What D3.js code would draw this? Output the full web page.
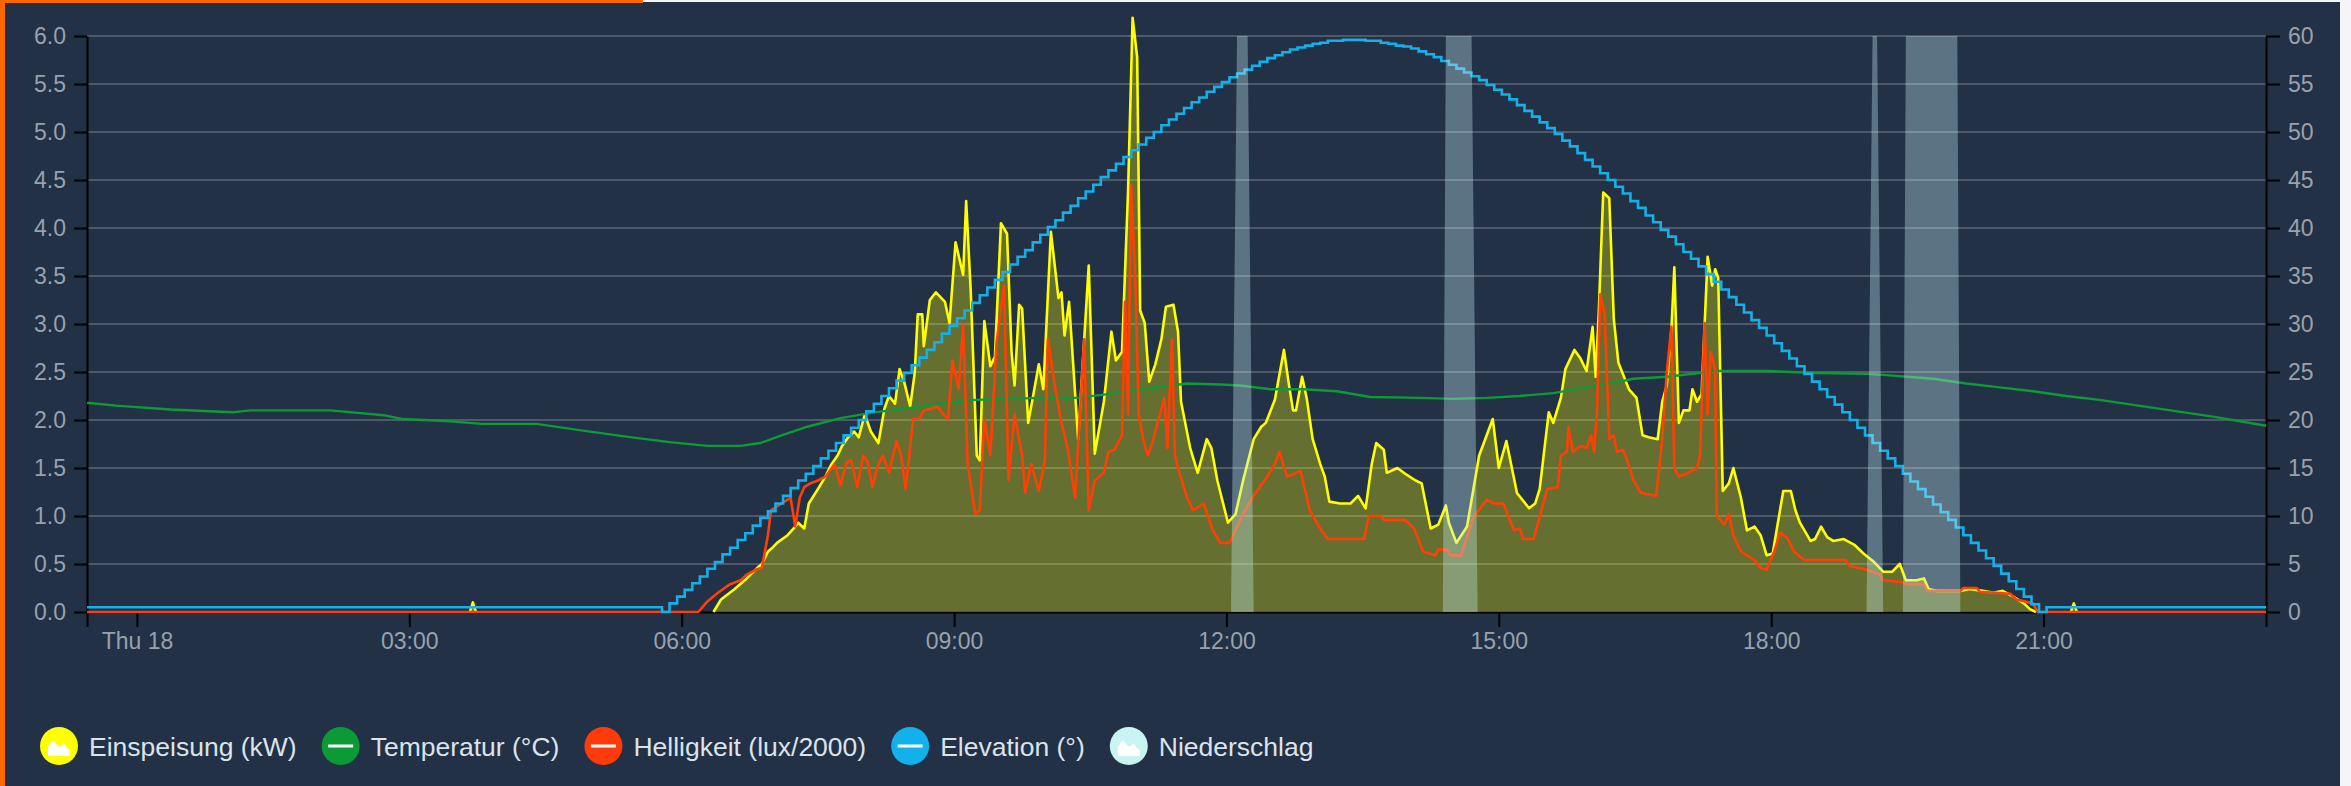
<!DOCTYPE html>
<html>
<head>
<meta charset="utf-8">
<script src="https://cdn.jsdelivr.net/npm/d3@7"></script>
<style>
  body { margin: 0; background: #ffffff; }
  svg { display: block; font-family: "Liberation Sans", Arial, Helvetica, sans-serif; }
</style>
</head>
<body>
<svg id="chart"></svg>
<script>
// time window shown (last 24h)
const domainStart = "17 23:27";
const domainEnd = "23:27";

// Einspeisung (kW) - null = no data
const einspeisung = [
  ["03:40", 0], ["03:42", 0.1], ["03:44", 0], ["03:45", null],
  ["06:21", 0], ["06:26", 0.13], ["06:35", 0.24], ["06:43", 0.35], ["06:50", 0.46], ["06:53", 0.5],
  ["06:57", 0.63], ["07:00", 0.67], ["07:03", 0.72], ["07:10", 0.8], ["07:14", 0.87], ["07:17", 0.93],
  ["07:21", 0.87], ["07:24", 1.13], ["07:30", 1.28], ["07:35", 1.41], ["07:39", 1.54], ["07:43", 1.63],
  ["07:46", 1.73], ["07:50", 1.82], ["07:54", 1.88], ["07:57", 1.82], ["08:01", 2.06], ["08:05", 1.88],
  ["08:10", 1.76], ["08:14", 2.12], ["08:17", 2.25], ["08:21", 2.17], ["08:24", 2.53], ["08:27", 2.4],
  ["08:31", 2.14], ["08:34", 2.49], ["08:36", 3.1], ["08:39", 3.1], ["08:40", 2.77], ["08:44", 3.25],
  ["08:48", 3.33], ["08:54", 3.23], ["08:57", 3.01], ["09:01", 3.85], ["09:06", 3.51], ["09:08", 4.28],
  ["09:11", 3.35], ["09:15", 1.63], ["09:17", 1.58], ["09:20", 3.03], ["09:24", 2.56], ["09:27", 2.66],
  ["09:31", 4.05], ["09:35", 3.94], ["09:38", 2.71], ["09:40", 2.36], ["09:43", 3.2], ["09:45", 3.16],
  ["09:49", 1.97], ["09:52", 2.23], ["09:56", 2.58], ["09:59", 2.32], ["10:04", 3.96], ["10:09", 3.27],
  ["10:11", 3.33], ["10:13", 2.88], ["10:16", 3.23], ["10:22", 1.8], ["10:29", 3.61], ["10:33", 1.65],
  ["10:39", 2.19], ["10:44", 2.92], ["10:47", 2.62], ["10:51", 2.71], ["10:55", 4.39], ["10:58", 6.19],
  ["11:01", 5.78], ["11:03", 3.14], ["11:06", 3.01], ["11:09", 2.4], ["11:13", 2.58], ["11:17", 2.84],
  ["11:20", 3.18], ["11:25", 3.2], ["11:28", 2.92], ["11:30", 2.19], ["11:36", 1.71], ["11:41", 1.45],
  ["11:47", 1.8], ["11:50", 1.71], ["11:54", 1.37], ["12:01", 0.93], ["12:06", 1.02], ["12:11", 1.37],
  ["12:18", 1.8], ["12:23", 1.93], ["12:26", 1.97], ["12:32", 2.21], ["12:38", 2.73], ["12:41", 2.4],
  ["12:44", 2.1], ["12:46", 2.1], ["12:50", 2.45], ["12:53", 2.23], ["12:57", 1.8], ["13:02", 1.54],
  ["13:05", 1.41], ["13:08", 1.15], ["13:15", 1.13], ["13:22", 1.13], ["13:27", 1.21], ["13:32", 1.08],
  ["13:36", 1.54], ["13:39", 1.76], ["13:44", 1.69], ["13:46", 1.45], ["13:53", 1.5], ["13:59", 1.43],
  ["14:05", 1.37], ["14:09", 1.34], ["14:15", 0.87], ["14:20", 0.91], ["14:25", 1.11], ["14:27", 0.93],
  ["14:32", 0.72], ["14:39", 0.89], ["14:47", 1.63], ["14:51", 1.8], ["14:56", 2.01], ["15:00", 1.5],
  ["15:05", 1.78], ["15:12", 1.24], ["15:20", 1.08], ["15:24", 1.13], ["15:27", 1.28], ["15:33", 2.08],
  ["15:36", 1.97], ["15:41", 2.23], ["15:44", 2.53], ["15:50", 2.73], ["15:54", 2.64], ["15:58", 2.51],
  ["16:02", 2.97], ["16:04", 2.45], ["16:06", 3.1], ["16:09", 4.37], ["16:13", 4.31], ["16:16", 3.05],
  ["16:19", 2.6], ["16:26", 2.32], ["16:31", 2.23], ["16:35", 1.84], ["16:39", 1.82], ["16:45", 1.8],
  ["16:48", 2.19], ["16:51", 2.36], ["16:54", 2.92], ["16:56", 3.59], ["16:59", 1.97], ["17:02", 2.1],
  ["17:06", 2.1], ["17:08", 2.32], ["17:11", 2.19], ["17:14", 2.27], ["17:18", 3.7], ["17:21", 3.4],
  ["17:23", 3.57], ["17:25", 3.48], ["17:28", 1.26], ["17:32", 1.34], ["17:35", 1.5], ["17:40", 1.19],
  ["17:44", 0.85], ["17:49", 0.89], ["17:53", 0.8], ["17:57", 0.59], ["18:01", 0.61], ["18:04", 0.89],
  ["18:08", 1.26], ["18:13", 1.26], ["18:16", 1.06], ["18:19", 0.93], ["18:26", 0.74], ["18:29", 0.76],
  ["18:33", 0.89], ["18:37", 0.78], ["18:41", 0.74], ["18:48", 0.76], ["18:55", 0.7], ["19:01", 0.61],
  ["19:08", 0.52], ["19:14", 0.42], ["19:20", 0.42], ["19:25", 0.5], ["19:29", 0.33], ["19:36", 0.33],
  ["19:41", 0.35], ["19:44", 0.24], ["19:49", 0.22], ["19:56", 0.22], ["20:05", 0.22], ["20:11", 0.24],
  ["20:20", 0.22], ["20:27", 0.2], ["20:33", 0.22], ["20:40", 0.16], ["20:47", 0.09], ["20:51", 0.03],
  ["20:55", 0], ["20:56", null],
  ["21:18", 0], ["21:20", 0.09], ["21:22", 0]
];

// Temperatur (°C), right axis
const temperatur = [
  ["17 23:27", 21.8], ["17 23:46", 21.5], ["00:22", 21.1], ["01:03", 20.8], ["01:15", 21.0], ["02:08", 21.0],
  ["02:43", 20.5], ["02:55", 20.1], ["03:24", 19.9], ["03:48", 19.6], ["04:24", 19.6], ["04:50", 19.0],
  ["05:22", 18.3], ["05:52", 17.7], ["06:17", 17.3], ["06:39", 17.3], ["06:52", 17.6], ["07:06", 18.4],
  ["07:23", 19.3], ["07:45", 20.2], ["08:07", 20.8], ["08:29", 21.2], ["08:52", 21.7], ["09:14", 22.1],
  ["09:36", 22.2], ["09:58", 22.3], ["10:20", 22.3], ["10:42", 22.7], ["11:04", 23.2], ["11:34", 23.8],
  ["11:56", 23.7], ["12:09", 23.6], ["12:29", 23.2], ["12:51", 23.2], ["13:13", 23.0], ["13:35", 22.4],
  ["14:08", 22.3], ["14:30", 22.2], ["14:52", 22.3], ["15:14", 22.5], ["15:36", 22.8], ["15:58", 23.4],
  ["16:20", 24.0], ["16:29", 24.3], ["16:51", 24.5], ["17:24", 25.1], ["17:57", 25.1], ["18:30", 24.9],
  ["19:03", 24.8], ["19:14", 24.7], ["19:47", 24.3], ["20:09", 23.8], ["20:31", 23.4], ["20:53", 23.0],
  ["21:15", 22.5], ["21:37", 22.1], ["22:54", 20.3], ["23:27", 19.4]
];

// Helligkeit (lux/2000), left axis
const helligkeit = [
  ["17 23:27", 0], ["06:11", 0], ["06:17", 0.11], ["06:24", 0.2], ["06:32", 0.29], ["06:39", 0.33],
  ["06:43", 0.39], ["06:49", 0.44], ["06:53", 0.46], ["06:57", 0.8], ["06:59", 1.06], ["07:06", 1.13],
  ["07:12", 1.19], ["07:15", 0.89], ["07:18", 1.19], ["07:21", 1.3], ["07:25", 1.34], ["07:30", 1.37],
  ["07:35", 1.41], ["07:41", 1.54], ["07:45", 1.32], ["07:49", 1.56], ["07:52", 1.58], ["07:56", 1.3],
  ["08:00", 1.63], ["08:03", 1.56], ["08:06", 1.3], ["08:10", 1.54], ["08:13", 1.63], ["08:17", 1.45],
  ["08:22", 1.78], ["08:25", 1.63], ["08:28", 1.28], ["08:33", 2.01], ["08:37", 2.01], ["08:40", 2.1],
  ["08:45", 2.12], ["08:49", 2.14], ["08:53", 2.06], ["08:56", 2.01], ["08:59", 2.62], ["09:03", 2.32],
  ["09:06", 2.99], ["09:09", 1.54], ["09:14", 1.02], ["09:17", 1.06], ["09:20", 2.01], ["09:24", 1.63],
  ["09:28", 2.79], ["09:33", 3.4], ["09:36", 1.37], ["09:40", 2.06], ["09:45", 1.63], ["09:47", 1.24],
  ["09:51", 1.54], ["09:56", 1.26], ["10:00", 1.58], ["10:02", 2.84], ["10:07", 2.32], ["10:11", 1.97],
  ["10:15", 1.71], ["10:20", 1.19], ["10:26", 2.84], ["10:29", 1.06], ["10:33", 1.37], ["10:39", 1.45],
  ["10:42", 1.67], ["10:46", 1.69], ["10:51", 1.84], ["10:53", 3.23], ["10:55", 2.06], ["10:57", 4.45],
  ["11:00", 3.35], ["11:02", 2.06], ["11:05", 1.8], ["11:08", 1.63], ["11:11", 1.76], ["11:16", 2.06],
  ["11:19", 2.23], ["11:21", 1.71], ["11:24", 2.84], ["11:26", 1.63], ["11:29", 1.45], ["11:34", 1.19],
  ["11:38", 1.06], ["11:45", 1.13], ["11:51", 0.85], ["11:56", 0.72], ["12:02", 0.72], ["12:11", 1.02],
  ["12:18", 1.21], ["12:26", 1.39], ["12:32", 1.54], ["12:35", 1.67], ["12:40", 1.41], ["12:49", 1.47],
  ["12:55", 1.06], ["13:02", 0.87], ["13:07", 0.76], ["13:31", 0.76], ["13:34", 1.0], ["13:42", 1.0],
  ["13:44", 0.96], ["13:58", 0.96], ["14:04", 0.87], ["14:10", 0.63], ["14:18", 0.59], ["14:20", 0.65],
  ["14:26", 0.65], ["14:28", 0.59], ["14:35", 0.59], ["14:43", 0.98], ["14:52", 1.17], ["14:57", 1.13],
  ["15:03", 1.13], ["15:10", 0.85], ["15:14", 0.87], ["15:16", 0.76], ["15:23", 0.76], ["15:32", 1.28],
  ["15:39", 1.3], ["15:41", 1.63], ["15:45", 1.67], ["15:46", 1.93], ["15:49", 1.67], ["15:54", 1.73],
  ["15:58", 1.71], ["16:01", 1.84], ["16:03", 1.67], ["16:05", 2.14], ["16:07", 3.31], ["16:10", 3.1],
  ["16:13", 1.8], ["16:16", 1.84], ["16:18", 1.67], ["16:22", 1.69], ["16:25", 1.58], ["16:29", 1.37],
  ["16:34", 1.24], ["16:44", 1.21], ["16:48", 1.8], ["16:51", 2.49], ["16:54", 2.97], ["16:56", 1.5],
  ["16:59", 1.41], ["17:05", 1.45], ["17:11", 1.5], ["17:13", 1.63], ["17:16", 3.01], ["17:18", 2.06],
  ["17:20", 2.71], ["17:23", 2.53], ["17:24", 1.0], ["17:29", 0.91], ["17:32", 1.02], ["17:35", 0.8],
  ["17:40", 0.63], ["17:49", 0.54], ["17:53", 0.46], ["17:57", 0.44], ["18:02", 0.63], ["18:06", 0.83],
  ["18:11", 0.76], ["18:15", 0.63], ["18:22", 0.54], ["18:49", 0.54], ["18:52", 0.48], ["19:03", 0.44],
  ["19:12", 0.39], ["19:14", 0.33], ["19:27", 0.31], ["19:30", 0.29], ["19:41", 0.29], ["19:43", 0.22],
  ["20:05", 0.22], ["20:07", 0.25], ["20:16", 0.25], ["20:18", 0.21], ["20:38", 0.19], ["20:42", 0.13],
  ["20:53", 0.09], ["20:56", 0], ["23:27", 0]
];

// Elevation (°), right axis: night value and 5-minute samples from 05:47 to 20:57
const elevationNight = 0.5;
const elevationStart = "05:47";
const elevationStepMin = 5;
const elevation = [
  0, 0.9, 1.6, 2.3, 3.0, 3.7, 4.5, 5.2, 6.0, 6.7, 7.5, 8.2, 9.0, 9.8, 10.5, 11.3, 12.1, 12.9, 13.7, 14.4,
  15.2, 16.0, 16.8, 17.6, 18.4, 19.2, 20.0, 20.9, 21.7, 22.5, 23.3, 24.1, 24.9, 25.7, 26.5, 27.3, 28.1, 29.0,
  29.8, 30.6, 31.4, 32.2, 33.0, 33.8, 34.6, 35.4, 36.2, 37.0, 37.7, 38.5, 39.3, 40.1, 40.8, 41.6, 42.3, 43.1,
  43.8, 44.5, 45.3, 46.0, 46.7, 47.4, 48.1, 48.7, 49.4, 50.0, 50.7, 51.3, 51.9, 52.5, 53.1, 53.6, 54.2, 54.7,
  55.2, 55.7, 56.1, 56.5, 56.9, 57.3, 57.7, 58.0, 58.3, 58.6, 58.8, 59.0, 59.2, 59.3, 59.5, 59.5, 59.6,
  59.6,
  59.6, 59.5, 59.5, 59.3, 59.2, 59.0, 58.9, 58.7, 58.4, 58.1, 57.8, 57.4, 57.0, 56.6, 56.2, 55.8, 55.4, 54.9,
  54.4, 53.9, 53.4, 52.8, 52.2, 51.6, 51.0, 50.4, 49.8, 49.1, 48.5, 47.8, 47.1, 46.4, 45.7, 45.0, 44.3, 43.6,
  42.8, 42.1, 41.3, 40.6, 39.8, 39.1, 38.3, 37.5, 36.8, 36.0, 35.2, 34.4, 33.6, 32.8, 32.0, 31.2, 30.4, 29.6,
  28.8, 28.0, 27.2, 26.4, 25.6, 24.8, 24.0, 23.2, 22.4, 21.6, 20.8, 20.0, 19.2, 18.4, 17.6, 16.8, 16.0, 15.2,
  14.4, 13.6, 12.8, 12.0, 11.2, 10.4, 9.6, 8.8, 8.0, 7.2, 6.4, 5.6, 4.8, 4.0, 3.2, 2.4, 1.6, 0.8, 0
];

// Niederschlag (mm), own hidden scale
const niederschlag = [
  ["17 23:27", 0],
  ["12:03", 0], ["12:07", 0.1], ["12:14", 0.1], ["12:18", 0],
  ["14:23", 0], ["14:25", 0.1], ["14:42", 0.1], ["14:46", 0],
  ["19:03", 0], ["19:07", 0.1], ["19:10", 0.1], ["19:14", 0],
  ["19:27", 0], ["19:29", 0.1], ["20:03", 0.1], ["20:05", 0],
  ["23:27", 0]
];

const leftTicks = d3.range(0, 6.01, 0.5);
const rightTicks = d3.range(0, 60.1, 5);

const legendItems = [
  { name: "Einspeisung (kW)", color: "#ffff00", icon: "area" },
  { name: "Temperatur (°C)", color: "#0b9a36", icon: "line" },
  { name: "Helligkeit (lux/2000)", color: "#ff3b0c", icon: "line" },
  { name: "Elevation (°)", color: "#13b1ec", icon: "line" },
  { name: "Niederschlag", color: "#c9f4f4", icon: "area" }
];

const width = 2351, height = 786;
const plot = { left: 87, right: 2266, top: 36, bottom: 612 };

const parseTime = s => d3.timeParse("%Y-%m-%d %H:%M")("2019-07-" + (s.length > 5 ? s : "18 " + s));

const svg = d3.select("#chart").attr("width", width).attr("height", height);

// frame
svg.append("rect").attr("width", width).attr("height", height).attr("fill", "#223145");
svg.append("rect").attr("x", 0).attr("y", 0).attr("width", width).attr("height", 2).attr("fill", "#f4f5f7");
svg.append("rect").attr("x", 2340).attr("y", 0).attr("width", 11).attr("height", height).attr("fill", "#f4f5f7");
svg.append("rect").attr("x", 0).attr("y", 0).attr("width", 643).attr("height", 3).attr("fill", "#ff6600");
svg.append("rect").attr("x", 0).attr("y", 0).attr("width", 5).attr("height", height).attr("fill", "#ff6600");

const x = d3.scaleTime()
  .domain([parseTime(domainStart), parseTime(domainEnd)])
  .range([plot.left, plot.right]);
const yKW = d3.scaleLinear().domain([0, 6]).range([plot.bottom, plot.top]);
const yDeg = d3.scaleLinear().domain([0, 60]).range([plot.bottom, plot.top]);
const yRain = d3.scaleLinear().domain([0, d3.max(niederschlag, d => d[1])]).range([plot.bottom, plot.top]);

// grid
svg.append("g")
  .selectAll("line")
  .data(leftTicks.filter(d => d > 0))
  .enter()
  .append("line")
  .attr("x1", plot.left).attr("x2", plot.right)
  .attr("y1", d => yKW(d)).attr("y2", d => yKW(d))
  .attr("stroke", "rgba(255,255,255,0.2)")
  .attr("stroke-width", 2);

// axes
const fmtDay = d3.timeFormat("%a %d"), fmtHour = d3.timeFormat("%H:%M");
const xAxis = d3.axisBottom(x)
  .ticks(d3.timeHour.every(3))
  .tickSize(15).tickSizeOuter(15).tickPadding(6)
  .tickFormat(d => d.getHours() === 0 ? fmtDay(d) : fmtHour(d));
const yAxisL = d3.axisLeft(yKW).tickValues(leftTicks).tickFormat(d3.format(".1f"))
  .tickSize(13).tickSizeOuter(0).tickPadding(8);
const yAxisR = d3.axisRight(yDeg).tickValues(rightTicks).tickFormat(d3.format("d"))
  .tickSize(14).tickSizeOuter(0).tickPadding(8);

function styleAxis(g) {
  g.select(".domain").attr("stroke", "#000").attr("stroke-width", 2);
  g.selectAll(".tick line").attr("stroke", "#000").attr("stroke-width", 2);
  g.selectAll(".tick text").attr("fill", "#98a2ae").attr("font-size", 23).attr("font-family", null);
}

svg.append("g").attr("transform", "translate(0," + plot.bottom + ")").call(xAxis).call(styleAxis);
svg.append("g").attr("transform", "translate(" + plot.left + ",0)").call(yAxisL).call(styleAxis);
svg.append("g").attr("transform", "translate(" + plot.right + ",0)").call(yAxisR).call(styleAxis);

// series
const feedData = einspeisung.map(d => [parseTime(d[0]), d[1]]);
const feedArea = d3.area()
  .defined(d => d[1] != null)
  .x(d => x(d[0])).y0(plot.bottom).y1(d => yKW(d[1]));
const feedLine = d3.line()
  .defined(d => d[1] != null)
  .x(d => x(d[0])).y(d => yKW(d[1]));

svg.append("path").datum(feedData)
  .attr("d", feedArea)
  .attr("fill", "rgba(255,255,0,0.3)");
svg.append("path").datum(feedData)
  .attr("d", feedLine)
  .attr("fill", "none").attr("stroke", "#ffff00").attr("stroke-width", 2.6).attr("stroke-linejoin", "round");

const tempLine = d3.line().x(d => x(parseTime(d[0]))).y(d => yDeg(d[1]));
svg.append("path").datum(temperatur)
  .attr("d", tempLine)
  .attr("fill", "none").attr("stroke", "#0e9a38").attr("stroke-width", 2.4);

const luxLine = d3.line().x(d => x(parseTime(d[0]))).y(d => yKW(d[1]));
svg.append("path").datum(helligkeit)
  .attr("d", luxLine)
  .attr("fill", "none").attr("stroke", "#ff4006").attr("stroke-width", 2.6).attr("stroke-linejoin", "round");

const t0 = parseTime(elevationStart);
const elevData = [[parseTime(domainStart), elevationNight], [d3.timeMinute.offset(t0, -3), elevationNight]]
  .concat(elevation.map((v, i) => [d3.timeMinute.offset(t0, i * elevationStepMin), v]));
const tEnd = elevData[elevData.length - 1][0];
elevData.push([d3.timeMinute.offset(tEnd, elevationStepMin), elevationNight]);
elevData.push([parseTime(domainEnd), elevationNight]);
const elevLine = d3.line().curve(d3.curveStepAfter).x(d => x(d[0])).y(d => yDeg(d[1]));
svg.append("path").datum(elevData)
  .attr("d", elevLine)
  .attr("fill", "none").attr("stroke", "#17afe8").attr("stroke-width", 2.6);

const rainArea = d3.area().x(d => x(parseTime(d[0]))).y0(plot.bottom).y1(d => yRain(d[1]));
svg.append("path").datum(niederschlag)
  .attr("d", rainArea)
  .attr("fill", "rgba(200,240,245,0.35)");

// legend
const legend = svg.append("g").attr("transform", "translate(0,746)");
let cx = 59;
legendItems.forEach(item => {
  const g = legend.append("g").attr("transform", "translate(" + cx + ",0)");
  g.append("circle").attr("r", 19).attr("fill", item.color);
  if (item.icon === "area") {
    g.append("path")
      .attr("d", "M-11,10L-11,1L-6,-6L-2,-1L1,1L5,-3L8,2L11,4L11,10Z")
      .attr("fill", "#ffffff");
  } else {
    g.append("rect").attr("x", -12.5).attr("y", -1.5).attr("width", 25).attr("height", 3).attr("fill", "#ffffff");
  }
  const t = g.append("text")
    .attr("x", 30).attr("dy", "0.36em")
    .attr("fill", "#dbe3ec").attr("font-size", 26.5)
    .text(item.name);
  cx += 30 + t.node().getComputedTextLength() + 44;
});
</script>
</body>
</html>
